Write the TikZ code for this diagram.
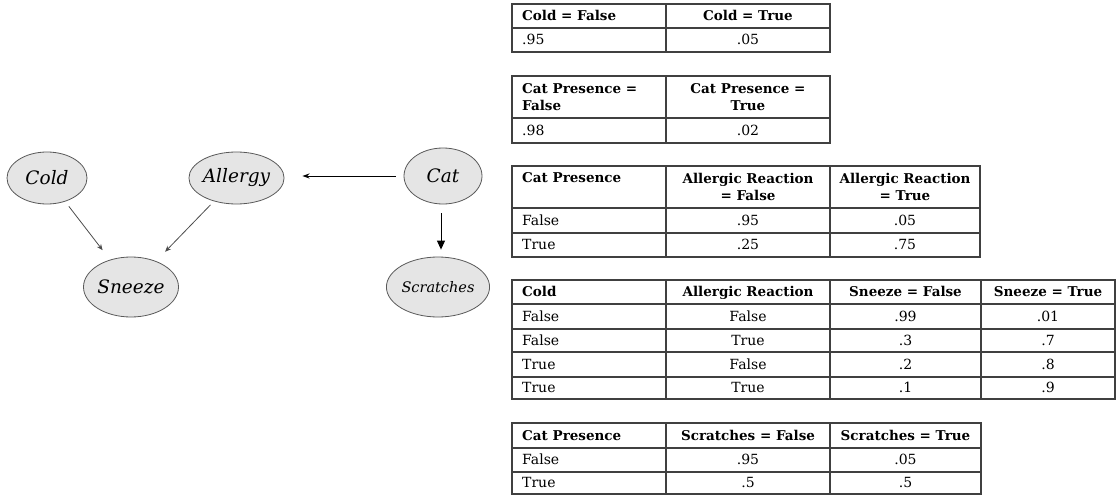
\documentclass[tikz,border=0pt]{standalone}
\usepackage{fontspec}
\setmainfont{DejaVu Serif}
\usetikzlibrary{shapes.geometric,arrows.meta}
\begin{document}
\begin{tikzpicture}[x=1pt,y=-1pt,
  bn/.style={ellipse,draw=black!65,fill=black!10,line width=0.8pt,inner sep=0pt,font=\fontsize{18.5}{20}\selectfont\itshape},
  garr/.style={draw=black!70,line width=0.8pt,-{Stealth[length=6pt,width=5pt]}},
  barr/.style={draw=black,line width=1pt,-{Triangle[length=9pt,width=8pt]}},
  tl/.style={draw=black!75,line width=1.3pt},
  hd/.style={font=\fontsize{13.5}{17}\selectfont\bfseries,inner sep=0pt},
  bd/.style={font=\fontsize{14}{16}\selectfont,inner sep=0pt},
]
\useasboundingbox (0,0) rectangle (1116,495);

% Bayesian network
\node[bn,minimum width=80pt,minimum height=52pt] (cold) at (47,178) {Cold};
\node[bn,minimum width=80pt,minimum height=52pt] (allergy) at (236.5,178) {Allergy};
\node[bn,minimum width=78pt,minimum height=56pt] (cat) at (443,176) {Cat};
\node[bn,minimum width=78pt,minimum height=60pt] (sneeze) at (131,287) {Sneeze};
\node[bn,minimum width=92pt,minimum height=60pt,font=\fontsize{14.5}{16}\selectfont\itshape] (scratches) at (438,287) {Scratches};

\draw[garr,shorten <=6pt,shorten >=12pt] (cold) -- (sneeze);
\draw[garr,shorten <=5pt,shorten >=13pt] (allergy) -- (sneeze);
\draw[draw=black,line width=0.9pt,-{Stealth[length=7pt,width=5pt]},shorten <=8pt,shorten >=18pt] (cat.west) -- (cat.west -| allergy.east);
\draw[barr,shorten <=9pt,shorten >=7pt] ([xshift=-2pt]cat.south) -- ([xshift=-2pt]cat.south |- scratches.north);

% Table 1
\draw[tl] (512,4) rectangle (830,52);
\draw[tl] (512,28) -- (830,28);
\draw[tl] (666,4) -- (666,52);
\node[hd,anchor=base west] (t1h1) at (522,20.5) {Cold = False};
\node[hd,anchor=base] (t1h2) at (748,20.5) {Cold = True};
\node[bd,anchor=base west] (t1a) at (522,44.5) {.95};
\node[bd,anchor=base] (t1b) at (748,44.5) {.05};

% Table 2
\draw[tl] (512,76) rectangle (830,143);
\draw[tl] (512,118) -- (830,118);
\draw[tl] (666,76) -- (666,143);
\node[hd,align=left,anchor=west] (t2h1) at (522,97) {Cat Presence =\\False};
\node[hd,align=center] (t2h2) at (748,97) {Cat Presence =\\True};
\node[bd,anchor=base west] (t2a) at (522,135) {.98};
\node[bd,anchor=base] (t2b) at (748,135) {.02};

% Table 3
\draw[tl] (512,166) rectangle (980,257);
\draw[tl] (512,208) -- (980,208);
\draw[tl] (512,233) -- (980,233);
\draw[tl] (666,166) -- (666,257);
\draw[tl] (830,166) -- (830,257);
\node[hd,anchor=base west] (t3h1) at (522,182) {Cat Presence};
\node[hd,align=center] (t3h2) at (748,187) {Allergic Reaction\\= False};
\node[hd,align=center] (t3h3) at (905,187) {Allergic Reaction\\= True};
\node[bd,anchor=base west] (t3a1) at (522,225) {False};
\node[bd,anchor=base] (t3a2) at (748,225) {.95};
\node[bd,anchor=base] (t3a3) at (905,225) {.05};
\node[bd,anchor=base west] (t3b1) at (522,249.5) {True};
\node[bd,anchor=base] (t3b2) at (748,249.5) {.25};
\node[bd,anchor=base] (t3b3) at (905,249.5) {.75};

% Table 4
\draw[tl] (512,280) rectangle (1115,399);
\foreach \yy in {304,329,352,377} \draw[tl] (512,\yy) -- (1115,\yy);
\foreach \xx in {666,830,981} \draw[tl] (\xx,280) -- (\xx,399);
\node[hd,anchor=base west] (t4h1) at (522,296.5) {Cold};
\node[hd,anchor=base] (t4h2) at (748,296.5) {Allergic Reaction};
\node[hd,anchor=base] (t4h3) at (905.5,296.5) {Sneeze = False};
\node[hd,anchor=base] (t4h4) at (1048,296.5) {Sneeze = True};
\node[bd,anchor=base west] (t4a1) at (522,321) {False};
\node[bd,anchor=base] (t4a2) at (748,321) {False};
\node[bd,anchor=base] (t4a3) at (905.5,321) {.99};
\node[bd,anchor=base] (t4a4) at (1048,321) {.01};
\node[bd,anchor=base west] (t4b1) at (522,345) {False};
\node[bd,anchor=base] (t4b2) at (748,345) {True};
\node[bd,anchor=base] (t4b3) at (905.5,345) {.3};
\node[bd,anchor=base] (t4b4) at (1048,345) {.7};
\node[bd,anchor=base west] (t4c1) at (522,369) {True};
\node[bd,anchor=base] (t4c2) at (748,369) {False};
\node[bd,anchor=base] (t4c3) at (905.5,369) {.2};
\node[bd,anchor=base] (t4c4) at (1048,369) {.8};
\node[bd,anchor=base west] (t4d1) at (522,392.5) {True};
\node[bd,anchor=base] (t4d2) at (748,392.5) {True};
\node[bd,anchor=base] (t4d3) at (905.5,392.5) {.1};
\node[bd,anchor=base] (t4d4) at (1048,392.5) {.9};

% Table 5
\draw[tl] (512,423) rectangle (981,494);
\draw[tl] (512,448) -- (981,448);
\draw[tl] (512,472) -- (981,472);
\draw[tl] (666,423) -- (666,494);
\draw[tl] (830,423) -- (830,494);
\node[hd,anchor=base west] (t5h1) at (522,440) {Cat Presence};
\node[hd,anchor=base] (t5h2) at (748,440) {Scratches = False};
\node[hd,anchor=base] (t5h3) at (905.5,440) {Scratches = True};
\node[bd,anchor=base west] (t5a1) at (522,464.5) {False};
\node[bd,anchor=base] (t5a2) at (748,464.5) {.95};
\node[bd,anchor=base] (t5a3) at (905.5,464.5) {.05};
\node[bd,anchor=base west] (t5b1) at (522,487.5) {True};
\node[bd,anchor=base] (t5b2) at (748,487.5) {.5};
\node[bd,anchor=base] (t5b3) at (905.5,487.5) {.5};
\end{tikzpicture}
\end{document}
